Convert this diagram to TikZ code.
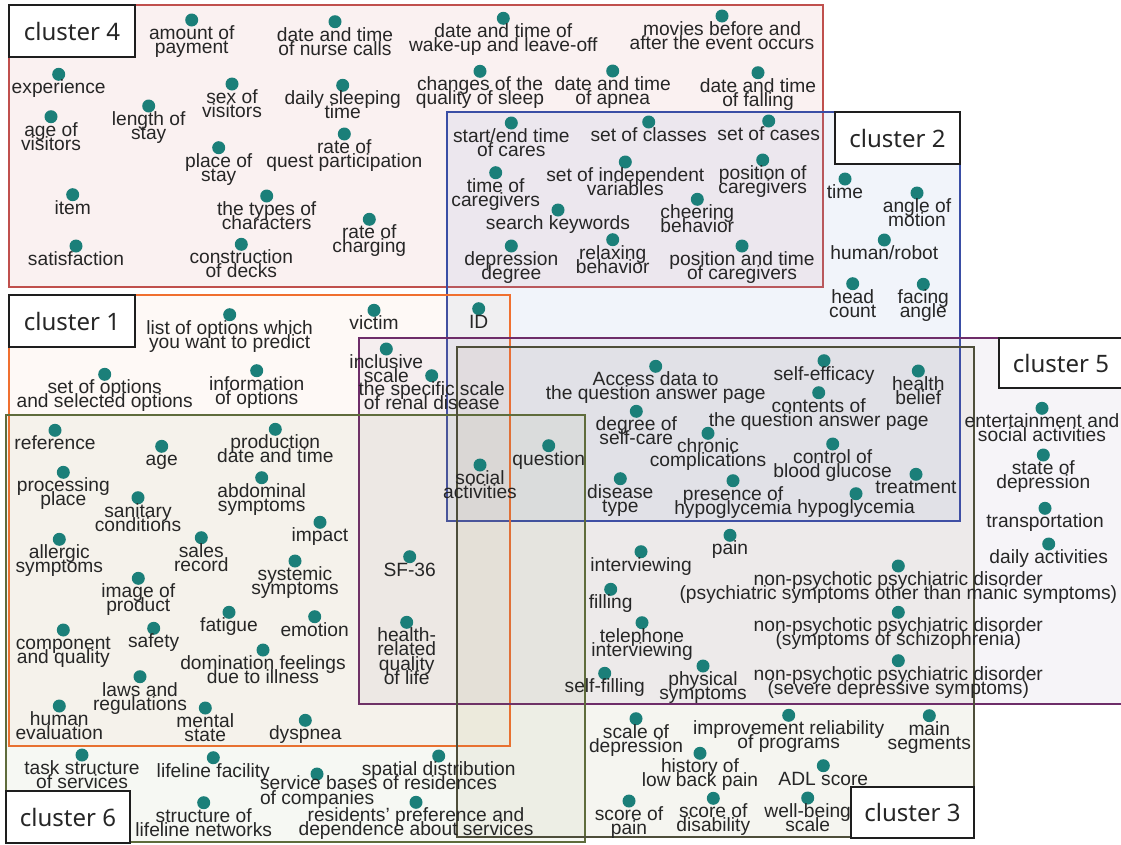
\documentclass[tikz,border=0pt]{standalone}
\usepackage{fontspec}
\newfontfamily\lbf{Liberation Sans}
\newfontfamily\clf{Noto Sans}
\definecolor{dotc}{RGB}{27,127,121}
\definecolor{txt}{RGB}{38,38,38}
\definecolor{boxc}{RGB}{30,30,30}
\definecolor{cA}{RGB}{240,112,48}
\definecolor{cB}{RGB}{58,78,165}
\definecolor{cC}{RGB}{78,78,58}
\definecolor{cD}{RGB}{192,80,77}
\definecolor{cE}{RGB}{110,45,105}
\definecolor{cF}{RGB}{95,108,60}
\definecolor{fA}{RGB}{240,150,80}
\definecolor{fB}{RGB}{130,155,215}
\definecolor{fC}{RGB}{140,130,75}
\definecolor{fD}{RGB}{200,110,100}
\definecolor{fE}{RGB}{140,100,160}
\definecolor{fF}{RGB}{110,140,60}
\tikzset{
  dot/.style={circle, fill=dotc, minimum size=13pt, inner sep=0pt, outer sep=0pt},
  lbl/.style={font={\lbf\fontsize{19.2}{14.2}\selectfont\lineskiplimit=-50pt\lineskip=0pt},
    text=txt, align=center, anchor=north, inner sep=0pt, outer sep=0pt},
  clbox/.style={draw=boxc, line width=2.6pt, fill=white, text=txt,
    font={\clf\fontsize{24}{26}\selectfont}, minimum height=52pt, inner sep=0pt},
  clrect/.style={line width=2.2pt}
}
\newcommand\itm[4]{%
  \node[dot] (#1) at (#2,#3) {};
  \node[lbl] (#1t) at (#2,#3+5.5) {\vphantom{l}#4};
}
\begin{document}
\begin{tikzpicture}[x=1pt,y=-1pt]
\useasboundingbox (0,0) rectangle (1121,844);
\fill[white] (0,0) rectangle (1121,844);
% cluster rectangles
\draw[clrect, draw=cC, fill=fC, fill opacity=0.08] (456.7,346.7) rectangle (974,837.3);
\draw[clrect, draw=cD, fill=fD, fill opacity=0.09] (9,5) rectangle (823,287);
\draw[clrect, draw=cB, fill=fB, fill opacity=0.11] (446.7,111.7) rectangle (960,521);
\draw[clrect, draw=cA, fill=fA, fill opacity=0.05] (9,295) rectangle (510,746);
\draw[clrect, draw=cE, fill=fE, fill opacity=0.07] (359,337.7) rectangle (1126,704);
\draw[clrect, draw=cF, fill=fF, fill opacity=0.06] (6,415) rectangle (585,842);
\draw[clrect, draw=cC] (456.7,346.7) rectangle (974,837.3);
% cluster 4 items
\itm{c4a}{191.7}{20}{amount of\\payment}
\itm{c4b}{58.7}{74.3}{experience}
\itm{c4c}{51}{116.7}{age of\\visitors}
\itm{c4d}{148.7}{106}{length of\\stay}
\itm{c4e}{232}{84}{sex of\\visitors}
\itm{c4f}{218.7}{147.7}{place of\\stay}
\itm{c4g}{72.7}{194.7}{item}
\itm{c4h}{76}{246}{satisfaction}
\itm{c4i}{266.7}{196}{the types of\\characters}
\itm{c4j}{241.3}{244.3}{construction\\of decks}
\itm{c4k}{335}{21.7}{date and time\\of nurse calls}
\itm{c4l}{503.3}{18.3}{date and time of\\wake-up and leave-off}
\itm{c4m}{342.7}{85.3}{daily sleeping\\time}
\itm{c4n}{480}{71.3}{changes of the\\quality of sleep}
\itm{c4o}{344.3}{134}{rate of\\quest participation}
\itm{c4p}{369.3}{219.3}{rate of\\charging}
\itm{c4q}{722}{16}{movies before and\\after the event occurs}
\itm{c4r}{612.7}{71}{date and time\\of apnea}
\itm{c4s}{758}{72.7}{date and time\\of falling}
% cluster 2 items
\itm{c2a}{511.3}{123}{start/end time\\of cares}
\itm{c2b}{495.7}{172.7}{time of\\caregivers}
\itm{c2c}{558}{210}{search keywords}
\itm{c2d}{511.3}{246}{depression\\degree}
\itm{c2e}{648.7}{122}{set of classes}
\itm{c2f}{768.7}{121}{set of cases}
\itm{c2g}{625.3}{162}{set of independent\\variables}
\itm{c2h}{762.7}{160}{position of\\caregivers}
\itm{c2i}{697.3}{199.3}{cheering\\behavior}
\itm{c2j}{612.7}{239.7}{relaxing\\behavior}
\itm{c2k}{742}{246}{position and time\\of caregivers}
\itm{c2l}{845}{179}{time}
\itm{c2m}{917}{193}{angle of\\motion}
\itm{c2n}{884.3}{240}{human/robot}
\itm{c2o}{852.7}{283.7}{head\\count}
\itm{c2p}{923.3}{284.3}{facing\\angle}
\itm{c2q}{478.7}{308.7}{ID}
% cluster 1 items
\itm{c1a}{229.7}{314.7}{list of options which\\you want to predict}
\itm{c1b}{374}{310.3}{victim}
\itm{c1c}{104.7}{374.3}{set of options\\and selected options}
\itm{c1d}{256.7}{370.7}{information\\of options}
\itm{c1e}{386.3}{349}{inclusive\\scale}
\itm{c1f}{431.7}{375.7}{the specific scale\\of renal disease}
\itm{c1g}{55}{430.3}{reference}
\itm{c1h}{161.7}{446.3}{age}
\itm{c1i}{275.3}{429.3}{production\\date and time}
\itm{c1j}{63.3}{472.3}{processing\\place}
\itm{c1k}{261.7}{477.7}{abdominal\\symptoms}
\itm{c1l}{138}{497.7}{sanitary\\conditions}
\itm{c1m}{59.3}{539.3}{allergic\\symptoms}
\itm{c1n}{201.3}{537.7}{sales\\record}
\itm{c1o}{320}{522.3}{impact}
\itm{c1p}{295}{561}{systemic\\symptoms}
\itm{c1q}{409.7}{556.7}{SF-36}
\itm{c1r}{138.3}{578.3}{image of\\product}
\itm{c1s}{229}{612.3}{fatigue}
\itm{c1t}{63.3}{630}{component\\and quality}
\itm{c1u}{153.7}{628.3}{safety}
\itm{c1v}{263}{650}{domination feelings\\due to illness}
\itm{c1w}{314.7}{616.7}{emotion}
\itm{c1x}{406.7}{622.3}{health-\\related\\quality\\of life}
\itm{c1y}{140}{676.7}{laws and\\regulations}
\itm{c1z}{59.3}{706}{human\\evaluation}
\itm{c1A}{205.3}{708}{mental\\state}
\itm{c1B}{305.3}{720.3}{dyspnea}
% cluster 6 items
\itm{c6a}{82}{755}{task structure\\of services}
\itm{c6b}{213.3}{757.7}{lifeline facility}
\node[dot] (c6c) at (317,774) {};
\node[lbl, align=left, anchor=north west] (c6ct) at (260,776) {\vphantom{l}service bases of residences\\of companies};
\itm{c6d}{438.7}{756}{spatial distribution}
\itm{c6e}{203.7}{802.7}{structure of\\lifeline networks}
\itm{c6f}{416}{802.3}{residents’ preference and\\dependence about services}
% cluster 5 / middle items
\itm{c5a}{548.7}{445.7}{question}
\itm{c5b}{480}{465}{social\\activities}
\itm{c5c}{655.7}{366.3}{Access data to\\the question answer page}
\itm{c5d}{824}{360.7}{self-efficacy}
\itm{c5e}{818.7}{392.7}{contents of\\the question answer page}
\itm{c5f}{918.3}{371}{health\\belief}
\itm{c5g}{636.3}{411.3}{degree of\\self-care}
\itm{c5h}{708}{433.3}{chronic\\complications}
\itm{c5i}{832.7}{444}{control of\\blood glucose}
\itm{c5j}{620.3}{478.7}{disease\\type}
\itm{c5k}{733}{480.7}{presence of\\hypoglycemia}
\itm{c5l}{856}{493.7}{hypoglycemia}
\itm{c5m}{916}{474.3}{treatment}
\itm{c5n}{1042}{408.3}{entertainment and\\social activities}
\itm{c5o}{1043.3}{455}{state of\\depression}
\itm{c5p}{1045}{508.3}{transportation}
\itm{c5q}{1048.7}{544}{daily activities}
\itm{c5r}{730}{535.3}{pain}
\itm{c5s}{641}{551.7}{interviewing}
\itm{c5t}{898.3}{566}{non-psychotic psychiatric disorder\\(psychiatric symptoms other than manic symptoms)}
\itm{c5u}{610.7}{589.3}{filling}
\itm{c5v}{898.3}{612.3}{non-psychotic psychiatric disorder\\(symptoms of schizophrenia)}
\itm{c5w}{642}{622.7}{telephone\\interviewing}
\itm{c5x}{604.7}{673.3}{self-filling}
\itm{c5y}{703}{666}{physical\\symptoms}
\itm{c5z}{898.3}{660.7}{non-psychotic psychiatric disorder\\(severe depressive symptoms)}
% cluster 3 items
\itm{c3a}{636}{718.7}{scale of\\depression}
\itm{c3b}{788.7}{715.3}{improvement reliability\\of programs}
\itm{c3c}{929.3}{715.7}{main\\segments}
\itm{c3d}{700}{753.3}{history of\\low back pain}
\itm{c3e}{823.3}{765.7}{ADL score}
\itm{c3f}{629}{801}{score of\\pain}
\itm{c3g}{713.3}{798.3}{score of\\disability}
\itm{c3h}{807.7}{798}{well-being\\scale}
% cluster label boxes
\node[clbox, minimum width=126pt] (L4) at (72,31) {cluster 4};
\node[clbox, minimum width=126pt] (L1) at (72,321) {cluster 1};
\node[clbox, minimum width=125pt] (L2) at (897.5,138) {cluster 2};
\node[clbox, minimum width=124pt, minimum height=50pt] (L5) at (1061,363) {cluster 5};
\node[clbox, minimum width=124pt] (L6) at (68,817) {cluster 6};
\node[clbox, minimum width=123pt, minimum height=51pt] (L3) at (912.5,812.5) {cluster 3};
\end{tikzpicture}
\end{document}
